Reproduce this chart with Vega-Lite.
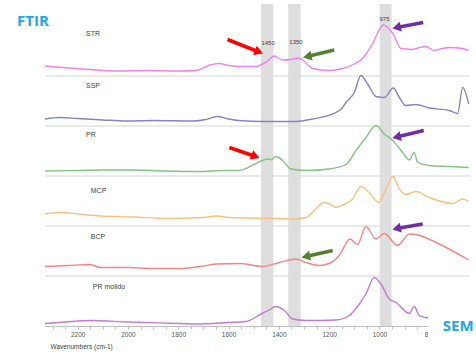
{
  "$schema": "https://vega.github.io/schema/vega-lite/v6.json",
  "width": 425,
  "height": 322,
  "autosize": {"type": "none"},
  "padding": {"left": 45, "top": 4, "right": 6, "bottom": 26},
  "background": "white",
  "config": {"view": {"stroke": null}, "font": "Liberation Sans"},
  "datasets": {
    "spectra": [
      {"s":"STR","wn":2330,"a":5.20},{"s":"STR","wn":2260,"a":5.17},{"s":"STR","wn":2151,"a":5.13},{"s":"STR","wn":2050,"a":5.10},{"s":"STR","wn":1912,"a":5.11},{"s":"STR","wn":1800,"a":5.10},{"s":"STR","wn":1730,"a":5.11},{"s":"STR","wn":1674,"a":5.22},{"s":"STR","wn":1638,"a":5.25},{"s":"STR","wn":1600,"a":5.21},{"s":"STR","wn":1559,"a":5.19},{"s":"STR","wn":1491,"a":5.19},{"s":"STR","wn":1450,"a":5.28},{"s":"STR","wn":1418,"a":5.40},{"s":"STR","wn":1385,"a":5.32},{"s":"STR","wn":1350,"a":5.33},{"s":"STR","wn":1325,"a":5.36},{"s":"STR","wn":1305,"a":5.32},{"s":"STR","wn":1266,"a":5.15},{"s":"STR","wn":1200,"a":5.11},{"s":"STR","wn":1146,"a":5.15},{"s":"STR","wn":1100,"a":5.24},{"s":"STR","wn":1067,"a":5.35},{"s":"STR","wn":1027,"a":5.65},{"s":"STR","wn":985,"a":6.02},{"s":"STR","wn":947,"a":5.85},{"s":"STR","wn":914,"a":5.55},{"s":"STR","wn":890,"a":5.54},{"s":"STR","wn":868,"a":5.53},{"s":"STR","wn":840,"a":5.57},{"s":"STR","wn":815,"a":5.59},{"s":"STR","wn":782,"a":5.51},{"s":"STR","wn":750,"a":5.55},{"s":"STR","wn":724,"a":5.57},{"s":"STR","wn":669,"a":5.55},{"s":"STR","wn":645,"a":5.51},
      {"s":"SSP","wn":2330,"a":4.14},{"s":"SSP","wn":2270,"a":4.17},{"s":"SSP","wn":2200,"a":4.15},{"s":"SSP","wn":2100,"a":4.12},{"s":"SSP","wn":2004,"a":4.10},{"s":"SSP","wn":1900,"a":4.11},{"s":"SSP","wn":1742,"a":4.10},{"s":"SSP","wn":1690,"a":4.13},{"s":"SSP","wn":1646,"a":4.19},{"s":"SSP","wn":1600,"a":4.14},{"s":"SSP","wn":1559,"a":4.11},{"s":"SSP","wn":1464,"a":4.09},{"s":"SSP","wn":1400,"a":4.09},{"s":"SSP","wn":1332,"a":4.09},{"s":"SSP","wn":1266,"a":4.14},{"s":"SSP","wn":1173,"a":4.27},{"s":"SSP","wn":1150,"a":4.35},{"s":"SSP","wn":1133,"a":4.47},{"s":"SSP","wn":1100,"a":4.67},{"s":"SSP","wn":1074,"a":5.01},{"s":"SSP","wn":1047,"a":4.84},{"s":"SSP","wn":1014,"a":4.59},{"s":"SSP","wn":981,"a":4.57},{"s":"SSP","wn":945,"a":4.76},{"s":"SSP","wn":921,"a":4.57},{"s":"SSP","wn":895,"a":4.41},{"s":"SSP","wn":855,"a":4.43},{"s":"SSP","wn":802,"a":4.36},{"s":"SSP","wn":722,"a":4.31},{"s":"SSP","wn":689,"a":4.25},{"s":"SSP","wn":669,"a":4.77},{"s":"SSP","wn":645,"a":4.44},
      {"s":"PR","wn":2330,"a":3.10},{"s":"PR","wn":2200,"a":3.11},{"s":"PR","wn":2100,"a":3.12},{"s":"PR","wn":1980,"a":3.12},{"s":"PR","wn":1850,"a":3.10},{"s":"PR","wn":1714,"a":3.09},{"s":"PR","wn":1620,"a":3.11},{"s":"PR","wn":1557,"a":3.11},{"s":"PR","wn":1491,"a":3.25},{"s":"PR","wn":1444,"a":3.34},{"s":"PR","wn":1430,"a":3.33},{"s":"PR","wn":1412,"a":3.39},{"s":"PR","wn":1385,"a":3.31},{"s":"PR","wn":1352,"a":3.14},{"s":"PR","wn":1292,"a":3.11},{"s":"PR","wn":1200,"a":3.14},{"s":"PR","wn":1133,"a":3.23},{"s":"PR","wn":1093,"a":3.51},{"s":"PR","wn":1054,"a":3.77},{"s":"PR","wn":1014,"a":4.01},{"s":"PR","wn":981,"a":3.84},{"s":"PR","wn":947,"a":3.71},{"s":"PR","wn":908,"a":3.47},{"s":"PR","wn":881,"a":3.32},{"s":"PR","wn":862,"a":3.47},{"s":"PR","wn":848,"a":3.27},{"s":"PR","wn":802,"a":3.21},{"s":"PR","wn":722,"a":3.19},{"s":"PR","wn":645,"a":3.17},
      {"s":"MCP","wn":2330,"a":2.24},{"s":"MCP","wn":2270,"a":2.27},{"s":"MCP","wn":2200,"a":2.24},{"s":"MCP","wn":2111,"a":2.20},{"s":"MCP","wn":1980,"a":2.18},{"s":"MCP","wn":1845,"a":2.15},{"s":"MCP","wn":1700,"a":2.17},{"s":"MCP","wn":1646,"a":2.20},{"s":"MCP","wn":1600,"a":2.17},{"s":"MCP","wn":1531,"a":2.16},{"s":"MCP","wn":1400,"a":2.15},{"s":"MCP","wn":1332,"a":2.14},{"s":"MCP","wn":1292,"a":2.17},{"s":"MCP","wn":1259,"a":2.31},{"s":"MCP","wn":1220,"a":2.47},{"s":"MCP","wn":1186,"a":2.41},{"s":"MCP","wn":1173,"a":2.37},{"s":"MCP","wn":1146,"a":2.42},{"s":"MCP","wn":1107,"a":2.54},{"s":"MCP","wn":1074,"a":2.79},{"s":"MCP","wn":1041,"a":2.67},{"s":"MCP","wn":1003,"a":2.47},{"s":"MCP","wn":974,"a":2.74},{"s":"MCP","wn":947,"a":2.99},{"s":"MCP","wn":921,"a":2.74},{"s":"MCP","wn":895,"a":2.63},{"s":"MCP","wn":855,"a":2.69},{"s":"MCP","wn":802,"a":2.57},{"s":"MCP","wn":709,"a":2.45},{"s":"MCP","wn":669,"a":2.54},{"s":"MCP","wn":645,"a":2.49},
      {"s":"BCP","wn":2330,"a":1.19},{"s":"BCP","wn":2240,"a":1.21},{"s":"BCP","wn":2151,"a":1.23},{"s":"BCP","wn":2111,"a":1.17},{"s":"BCP","wn":2000,"a":1.17},{"s":"BCP","wn":1900,"a":1.15},{"s":"BCP","wn":1793,"a":1.15},{"s":"BCP","wn":1700,"a":1.20},{"s":"BCP","wn":1646,"a":1.24},{"s":"BCP","wn":1555,"a":1.25},{"s":"BCP","wn":1464,"a":1.19},{"s":"BCP","wn":1398,"a":1.27},{"s":"BCP","wn":1332,"a":1.34},{"s":"BCP","wn":1292,"a":1.27},{"s":"BCP","wn":1239,"a":1.21},{"s":"BCP","wn":1200,"a":1.25},{"s":"BCP","wn":1160,"a":1.41},{"s":"BCP","wn":1117,"a":1.74},{"s":"BCP","wn":1087,"a":1.63},{"s":"BCP","wn":1054,"a":1.99},{"s":"BCP","wn":1014,"a":1.74},{"s":"BCP","wn":981,"a":1.85},{"s":"BCP","wn":928,"a":1.61},{"s":"BCP","wn":881,"a":1.84},{"s":"BCP","wn":855,"a":1.83},{"s":"BCP","wn":775,"a":1.67},{"s":"BCP","wn":645,"a":1.32},
      {"s":"PR molido","wn":2330,"a":0.05},{"s":"PR molido","wn":2250,"a":0.08},{"s":"PR molido","wn":2151,"a":0.11},{"s":"PR molido","wn":2000,"a":0.08},{"s":"PR molido","wn":1793,"a":0.05},{"s":"PR molido","wn":1730,"a":0.04},{"s":"PR molido","wn":1600,"a":0.07},{"s":"PR molido","wn":1531,"a":0.09},{"s":"PR molido","wn":1471,"a":0.24},{"s":"PR molido","wn":1438,"a":0.32},{"s":"PR molido","wn":1412,"a":0.39},{"s":"PR molido","wn":1378,"a":0.31},{"s":"PR molido","wn":1345,"a":0.14},{"s":"PR molido","wn":1292,"a":0.11},{"s":"PR molido","wn":1173,"a":0.12},{"s":"PR molido","wn":1120,"a":0.21},{"s":"PR molido","wn":1080,"a":0.44},{"s":"PR molido","wn":1054,"a":0.64},{"s":"PR molido","wn":1021,"a":0.97},{"s":"PR molido","wn":994,"a":0.84},{"s":"PR molido","wn":961,"a":0.54},{"s":"PR molido","wn":934,"a":0.47},{"s":"PR molido","wn":881,"a":0.25},{"s":"PR molido","wn":862,"a":0.39},{"s":"PR molido","wn":842,"a":0.21},{"s":"PR molido","wn":815,"a":0.17},{"s":"PR molido","wn":740,"a":0.12},{"s":"PR molido","wn":648,"a":0.10}
    ],
    "bands": [
      {"band":"1450","wn":1471,"wn2":1422},
      {"band":"1350","wn":1363,"wn2":1313},
      {"band":"975","wn":999,"wn2":952}
    ],
    "separators": [
      {"wn":2330,"wn2":640,"a":1},{"wn":2330,"wn2":640,"a":2},{"wn":2330,"wn2":640,"a":3},{"wn":2330,"wn2":640,"a":4},{"wn":2330,"wn2":640,"a":5}
    ],
    "arrows": [
      {"band":"1450","wn":1604,"a":5.73,"wn2":1479,"a2":5.48},
      {"band":"1450","wn":1597,"a":3.57,"wn2":1493,"a2":3.39},
      {"band":"1350","wn":1180,"a":5.52,"wn2":1287,"a2":5.39},
      {"band":"1350","wn":1186,"a":1.51,"wn2":1293,"a2":1.39},
      {"band":"975","wn":826,"a":6.07,"wn2":932,"a2":5.97},
      {"band":"975","wn":824,"a":3.91,"wn2":932,"a2":3.78},
      {"band":"975","wn":828,"a":2.04,"wn2":932,"a2":1.95}
    ],
    "names": [
      {"t":"STR","wn":2167,"a":5.84},
      {"t":"SSP","wn":2167,"a":4.80},
      {"t":"PR","wn":2167,"a":3.82},
      {"t":"MCP","wn":2148,"a":2.70},
      {"t":"BCP","wn":2148,"a":1.78},
      {"t":"PR molido","wn":2140,"a":0.78}
    ],
    "peaks": [
      {"t":"1450","wn":1443,"a":5.67},
      {"t":"1350","wn":1332,"a":5.69},
      {"t":"975","wn":980,"a":6.15}
    ],
    "box": [{"wn":807,"wn2":600,"a":0.36,"a2":-0.6}],
    "heads": [
      {"t":"FTIR","wn":2441,"a":6.11},
      {"t":"SEM","wn":748,"a":0.0}
    ]
  },
  "encoding": {
    "x": {
      "field": "wn",
      "type": "quantitative",
      "scale": {"domain": [2330, 640], "nice": false, "zero": false},
      "axis": {
        "values": [2300,2250,2200,2150,2100,2050,2000,1950,1900,1850,1800,1750,1700,1650,1600,1550,1500,1450,1400,1350,1300,1250,1200,1150,1100,1050,1000,950,900,850,800,750,700,650],
        "format": "d",
        "labelExpr": "datum.value % 200 === 0 ? datum.label : ''",
        "title": "Wavenumbers (cm-1)",
        "titleFontSize": 6.5,
        "titleFontWeight": "normal",
        "titleColor": "#404040",
        "titleAnchor": "start",
        "titleAlign": "left",
        "titleX": 5,
        "titleY": 17,
        "labelFontSize": 6.5,
        "labelColor": "#595959",
        "labelPadding": 2,
        "labelOverlap": false,
        "labelFlush": false,
        "tickSize": 3,
        "tickColor": "#bfbfbf",
        "domainColor": "#bfbfbf",
        "grid": false,
        "zindex": 0
      }
    }
  },
  "resolve": {"scale": {"color": "independent"}},
  "layer": [
    {
      "data": {"name": "separators"},
      "mark": {"type": "rule", "color": "#e3e3e3", "strokeWidth": 1.5},
      "encoding": {
        "x2": {"field": "wn2"},
        "y": {"field": "a", "type": "quantitative", "scale": {"domain": [0, 6.44], "nice": false, "zero": false}, "axis": null}
      }
    },
    {
      "data": {"name": "bands"},
      "mark": {"type": "rect", "color": "#dedede"},
      "encoding": {"x2": {"field": "wn2"}}
    },
    {
      "data": {"name": "spectra"},
      "mark": {"type": "line", "strokeWidth": 1.4, "interpolate": "monotone"},
      "encoding": {
        "y": {"field": "a", "type": "quantitative", "scale": {"domain": [0, 6.44], "nice": false, "zero": false}, "axis": null},
        "color": {
          "field": "s", "type": "nominal",
          "scale": {"domain": ["STR","SSP","PR","MCP","BCP","PR molido"], "range": ["#f080f0","#8383c8","#82c482","#f8c080","#f48585","#c07cd0"]},
          "legend": null
        }
      }
    },
    {
      "data": {"name": "box"},
      "mark": {"type": "rect", "color": "white"},
      "encoding": {
        "x2": {"field": "wn2"},
        "y": {"field": "a", "type": "quantitative", "scale": {"domain": [0, 6.44], "nice": false, "zero": false}, "axis": null},
        "y2": {"field": "a2"}
      }
    },
    {
      "data": {"name": "arrows"},
      "mark": {"type": "rule", "strokeWidth": 3.5},
      "encoding": {
        "x2": {"field": "wn2"},
        "y": {"field": "a", "type": "quantitative", "scale": {"domain": [0, 6.44], "nice": false, "zero": false}, "axis": null},
        "y2": {"field": "a2"},
        "color": {"field": "band", "type": "nominal", "scale": {"domain": ["1450","1350","975"], "range": ["#ff0000","#548235","#7030a0"]}, "legend": null}
      }
    },
    {
      "data": {"name": "arrows"},
      "transform": [{"filter": "datum.band === '1450'"}],
      "mark": {"type": "point", "shape": "triangle-up", "filled": true, "size": 100, "angle": 111, "opacity": 1},
      "encoding": {
        "x": {"field": "wn2", "type": "quantitative"},
        "y": {"field": "a2", "type": "quantitative", "scale": {"domain": [0, 6.44], "nice": false, "zero": false}, "axis": null},
        "color": {"field": "band", "type": "nominal", "scale": {"domain": ["1450","1350","975"], "range": ["#ff0000","#548235","#7030a0"]}, "legend": null}
      }
    },
    {
      "data": {"name": "arrows"},
      "transform": [{"filter": "datum.band !== '1450'"}],
      "mark": {"type": "point", "shape": "triangle-up", "filled": true, "size": 100, "angle": 258, "opacity": 1},
      "encoding": {
        "x": {"field": "wn2", "type": "quantitative"},
        "y": {"field": "a2", "type": "quantitative", "scale": {"domain": [0, 6.44], "nice": false, "zero": false}, "axis": null},
        "color": {"field": "band", "type": "nominal", "scale": {"domain": ["1450","1350","975"], "range": ["#ff0000","#548235","#7030a0"]}, "legend": null}
      }
    },
    {
      "data": {"name": "names"},
      "mark": {"type": "text", "align": "left", "baseline": "middle", "fontSize": 7, "color": "#404040"},
      "encoding": {
        "y": {"field": "a", "type": "quantitative", "scale": {"domain": [0, 6.44], "nice": false, "zero": false}, "axis": null},
        "text": {"field": "t"}
      }
    },
    {
      "data": {"name": "peaks"},
      "mark": {"type": "text", "align": "center", "baseline": "middle", "fontSize": 6, "color": "#404040"},
      "encoding": {
        "y": {"field": "a", "type": "quantitative", "scale": {"domain": [0, 6.44], "nice": false, "zero": false}, "axis": null},
        "text": {"field": "t"}
      }
    },
    {
      "data": {"name": "heads"},
      "mark": {"type": "text", "align": "left", "baseline": "middle", "fontSize": 15, "fontWeight": "bold", "font": "Open Sans", "color": "#22a6e6"},
      "encoding": {
        "y": {"field": "a", "type": "quantitative", "scale": {"domain": [0, 6.44], "nice": false, "zero": false}, "axis": null},
        "text": {"field": "t"}
      }
    }
  ]
}
